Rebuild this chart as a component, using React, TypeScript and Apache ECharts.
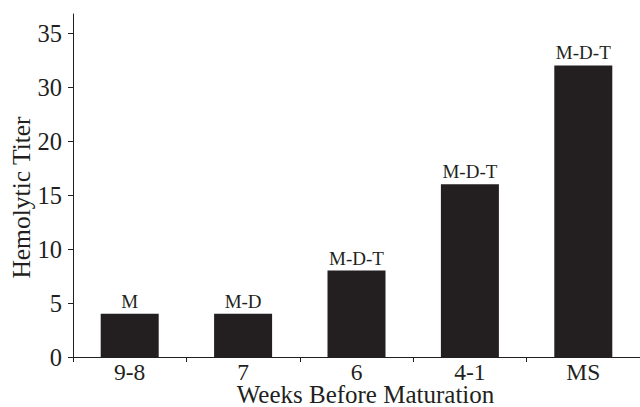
import React, { useEffect, useRef } from "react";
import * as echarts from "echarts";

const categories = ["9-8", "7", "6", "4-1", "MS"];
const titers = [4, 4, 8, 16, 32];
const barLabels = ["M", "M-D", "M-D-T", "M-D-T", "M-D-T"];
// Broken y-axis: evenly spaced tick positions carry these labels
const yTickLabels = ["0", "5", "10", "15", "20", "30", "35"];
const xAxisTitle = "Weeks Before Maturation";
const yAxisTitle = "Hemolytic Titer";

const INK = "#231f20";
const FONT = "Liberation Serif";

// Piecewise axis scale: 0-20 linear, 20->30 compressed into one step, 30->35 one step
function toAxis(v: number): number {
  if (v <= 20) return v;
  if (v <= 30) return 20 + (v - 20) / 2;
  return 25 + (v - 30);
}

export default function App() {
  const ref = useRef<HTMLDivElement>(null);
  useEffect(() => {
    if (!ref.current) return;
    const chart = echarts.init(ref.current, null, { renderer: "svg" });
    chart.setOption({
      animation: false,
      textStyle: { fontFamily: FONT },
      grid: { left: 73, right: 0, top: 14, bottom: 50, containLabel: false },
      xAxis: {
        type: "category",
        data: categories,
        axisLine: { lineStyle: { color: INK, width: 1 } },
        axisTick: { show: true, length: 5, lineStyle: { color: INK } },
        axisLabel: {
          color: INK,
          fontFamily: FONT,
          fontSize: 23.5,
          lineHeight: 21,
          margin: 4,
        },
      },
      yAxis: {
        type: "value",
        min: 0,
        max: 31.76,
        interval: 5,
        splitLine: { show: false },
        axisLine: { show: true, lineStyle: { color: INK, width: 1 } },
        axisTick: { show: true, length: 5, lineStyle: { color: INK } },
        axisLabel: {
          color: INK,
          fontFamily: FONT,
          fontSize: 24.5,
          margin: 11,
          showMaxLabel: false,
          formatter: (val: number) => {
            const i = Math.round(val / 5);
            return yTickLabels[i] ?? "";
          },
        },
      },
      graphic: [
        {
          type: "text",
          x: 21,
          y: 197.5,
          rotation: Math.PI / 2,
          style: {
            text: yAxisTitle,
            fill: INK,
            fontFamily: FONT,
            fontSize: 25.5,
            align: "center",
            verticalAlign: "middle",
          },
        },
        {
          type: "text",
          x: 365.5,
          y: 394,
          style: {
            text: xAxisTitle,
            fill: INK,
            fontFamily: FONT,
            fontSize: 25,
            lineHeight: 20,
            align: "center",
            verticalAlign: "middle",
          },
        },
      ],
      series: [
        {
          type: "bar",
          data: titers.map((v) => toAxis(v)),
          barWidth: 58,
          itemStyle: { color: INK },
          label: {
            show: true,
            position: "top",
            distance: 3,
            color: INK,
            fontFamily: FONT,
            fontSize: 19,
            formatter: (p: any) => barLabels[p.dataIndex],
          },
        },
      ],
    });
    return () => chart.dispose();
  }, []);
  return (
    <div
      ref={ref}
      style={{ position: "absolute", left: 0, top: 0, width: 640, height: 407 }}
    />
  );
}
